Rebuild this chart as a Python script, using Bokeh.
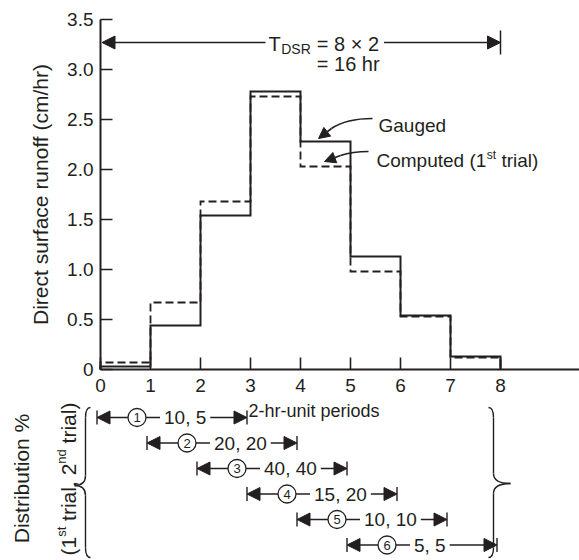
import math
from bokeh.plotting import figure
from bokeh.models import Range1d, FixedTicker, Arrow, NormalHead
from bokeh.core.properties import value
from bokeh.embed import file_html
from bokeh.resources import INLINE

# ---------------- data ----------------
period_edges = [0, 1, 2, 3, 4, 5, 6, 7, 8]
gauged_runoff = [0.03, 0.44, 1.54, 2.78, 2.28, 1.13, 0.54, 0.13]
computed_runoff = [0.07, 0.67, 1.68, 2.73, 2.03, 0.98, 0.53, 0.12]
y_tick_values = [0, 0.5, 1.0, 1.5, 2.0, 2.5, 3.0, 3.5]
y_tick_labels = ["0", "0.5", "1.0", "1.5", "2.0", "2.5", "3.0", "3.5"]
x_tick_values = [0, 1, 2, 3, 4, 5, 6, 7, 8]
x_tick_labels = ["0", "1", "2", "3", "4", "5", "6", "7", "8"]
n_unit_periods = 8
unit_duration_hr = 2
dist_numbers = ["1", "2", "3", "4", "5", "6"]
dist_start_period = [0, 1, 2, 3, 4, 5]
dist_first_trial = [10, 20, 40, 15, 10, 5]
dist_second_trial = [5, 20, 40, 20, 10, 5]
dist_span = 3

# ---------------- style ----------------
FONT = "Liberation Sans"
INK = "#231f20"
ARIAL = {" ": 278, "(": 333, ")": 333, ",": 278, "-": 333, ".": 278, "/": 278,
         "=": 584, "%": 889, "\u00d7": 584, "C": 722, "D": 722, "G": 778, "R": 722,
         "S": 667, "T": 611, "a": 556, "b": 556, "c": 500, "d": 556, "e": 556,
         "f": 278, "g": 556, "h": 556, "i": 222, "l": 222, "m": 833, "n": 556,
         "o": 556, "p": 556, "r": 333, "s": 500, "t": 278, "u": 556}


def tw(s, size):
    return sum(ARIAL.get(ch, 556) for ch in s) * size / 1000.0


PX = 1 / 50.0    # x data units per screen pixel
PY = 1 / 100.0   # y data units per screen pixel


def txt(fig, x, y, s, size, align="left", baseline="alphabetic", angle=0.0, **kw):
    fig.text(x=[x], y=[y], text=[s], text_font=value(FONT), text_font_size=f"{size}px",
             text_align=align, text_baseline=baseline, text_color=INK, angle=angle, **kw)


def head(size=13):
    return NormalHead(size=size, fill_color=INK, line_color=INK, line_width=1)


# ---------------- figure (frame covers the whole canvas) ----------------
p = figure(width=579, height=560, x_range=Range1d(-2.0, 9.58), y_range=Range1d(-1.91, 3.69),
           output_backend="svg", toolbar_location=None,
           min_border_left=0, min_border_right=0, min_border_top=0, min_border_bottom=0)
p.outline_line_color = None
p.grid.visible = False

xax = p.xaxis[0]
xax.ticker = FixedTicker(ticks=x_tick_values)
xax.major_label_overrides = dict(zip(x_tick_values, x_tick_labels))
xax.fixed_location = 0
xax.bounds = (0, 9.58)
yax = p.yaxis[0]
yax.ticker = FixedTicker(ticks=y_tick_values)
yax.major_label_overrides = dict(zip(y_tick_values, y_tick_labels))
yax.fixed_location = 0
yax.bounds = (0, 3.5)
for ax in (xax, yax):
    ax.major_tick_in = 12
    ax.major_tick_out = 0
    ax.minor_tick_in = 0
    ax.minor_tick_out = 0
    ax.axis_line_width = 2
    ax.axis_line_color = INK
    ax.major_tick_line_width = 1.6
    ax.major_tick_line_color = INK
    ax.major_label_text_font = FONT
    ax.major_label_text_font_size = "19px"
    ax.major_label_text_color = INK
xax.major_label_standoff = 9
yax.major_label_standoff = 7
yax.axis_label = "Direct surface runoff (cm/hr)"
yax.axis_label_text_font = FONT
yax.axis_label_text_font_size = "21px"
yax.axis_label_text_font_style = "normal"
yax.axis_label_text_color = INK
yax.axis_label_standoff = 12


def step_path(edges, vals):
    xs, ys = [edges[0]], [0.0]
    for i, v in enumerate(vals):
        xs += [edges[i], edges[i + 1]]
        ys += [v, v]
    xs.append(edges[-1])
    ys.append(0.0)
    return xs, ys


gx, gy = step_path(period_edges, gauged_runoff)
cx, cy = step_path(period_edges, computed_runoff)
p.line(gx, gy, line_color=INK, line_width=2, line_join="miter")
p.line(cx, cy, line_color=INK, line_width=1.8, line_dash="8 4", line_join="miter")

# ---- T_DSR annotation ----
y_T = 3.27
x_T = 3.36
txt(p, x_T, y_T - 0.01, "T", 20)
x_dsr = x_T + tw("T", 20) * PX + 0.01
txt(p, x_dsr, y_T - 0.06, "DSR", 14)
x_eq = x_dsr + tw("DSR", 14) * PX + 0.12
line1 = f"= {n_unit_periods} \u00d7 {unit_duration_hr}"
line2 = f"= {n_unit_periods * unit_duration_hr} hr"
txt(p, x_eq, y_T - 0.01, line1, 20)
txt(p, x_eq, y_T - 0.21, line2, 20)
p.add_layout(Arrow(end=head(), x_start=x_T - 0.06, y_start=y_T, x_end=0.03, y_end=y_T,
                   line_color=INK, line_width=1.5))
x_r0 = x_eq + tw(line1, 20) * PX + 0.1
p.add_layout(Arrow(end=head(), x_start=x_r0, y_start=y_T, x_end=period_edges[-1], y_end=y_T,
                   line_color=INK, line_width=1.5))
p.segment(x0=[period_edges[-1]], y0=[y_T - 0.12], x1=[period_edges[-1]], y1=[y_T + 0.12],
          line_color=INK, line_width=1.5)

# ---- labels with curved arrows ----
txt(p, 5.56, 2.44, "Gauged", 19)
x_c = 5.52
y_c = 2.09
txt(p, x_c, y_c, "Computed (1", 19)
x_st = x_c + tw("Computed (1", 19) * PX + 0.01
txt(p, x_st, y_c + 0.06, "st", 12)
txt(p, x_st + (tw("st", 12) + tw(" ", 19)) * PX, y_c, "trial)", 19)

p.quadratic(x0=[5.44], y0=[2.51], x1=[4.62], y1=[2.41], cx=[4.92], cy=[2.51],
            line_color=INK, line_width=1.6)
p.add_layout(Arrow(end=head(11), x_start=4.62, y_start=2.41, x_end=4.36, y_end=2.31,
                   line_color=INK, line_width=1.6))
p.quadratic(x0=[5.36], y0=[2.18], x1=[4.80], y1=[2.14], cx=[5.04], cy=[2.18],
            line_color=INK, line_width=1.6)
p.add_layout(Arrow(end=head(11), x_start=4.80, y_start=2.14, x_end=4.48, y_end=2.08,
                   line_color=INK, line_width=1.6))

# ---- distribution rows below the axis ----
txt(p, 2.96, -0.41, "2-hr-unit periods", 18, baseline="middle")

shift = -0.07
row_y = [-0.48 - 0.255 * k for k in range(len(dist_numbers))]
x_left = [s + shift for s in dist_start_period]
x_right = [s + dist_span + shift for s in dist_start_period]
for xl, xr, yy in zip(x_left, x_right, row_y):
    arr = Arrow(start=head(), end=head(), x_start=xl, y_start=yy, x_end=xr, y_end=yy,
                line_color=INK, line_width=1.4)
    arr.level = "underlay"
    p.add_layout(arr)
p.segment(x0=x_left, y0=[y - 0.07 for y in row_y], x1=x_left, y1=[y + 0.07 for y in row_y],
          line_color=INK, line_width=1.4)
p.segment(x0=x_right, y0=[y - 0.07 for y in row_y], x1=x_right, y1=[y + 0.07 for y in row_y],
          line_color=INK, line_width=1.4)
circ_x = [xl + 0.8 for xl in x_left]
p.scatter(x=circ_x, y=row_y, marker="circle", size=18, fill_color="white",
          line_color=INK, line_width=1.3)
p.text(x=circ_x, y=row_y, text=dist_numbers, text_font=value(FONT), text_font_size="13px",
       text_align="center", text_baseline="middle", text_color=INK)
labels = [f"{a}, {b}" for a, b in zip(dist_first_trial, dist_second_trial)]
p.text(x=[c + 0.46 for c in circ_x], y=row_y, text=labels, text_font=value(FONT),
       text_font_size="19px", text_align="left", text_baseline="middle", text_color=INK,
       background_fill_color="white", padding=4)


def brace(fig, xa, xt, y0, y1, ym, hook, r):
    q = [(xa + hook, y0, xa, y0 - r, xa, y0),
         (xa, ym + r, xt, ym, xa, ym),
         (xt, ym, xa, ym - r, xa, ym),
         (xa, y1 + r, xa + hook, y1, xa, y1)]
    fig.quadratic(x0=[a[0] for a in q], y0=[a[1] for a in q], x1=[a[2] for a in q],
                  y1=[a[3] for a in q], cx=[a[4] for a in q], cy=[a[5] for a in q],
                  line_color=INK, line_width=1.4)
    fig.segment(x0=[xa, xa], y0=[y0 - r, ym - r], x1=[xa, xa], y1=[ym + r, y1 + r],
                line_color=INK, line_width=1.4)


brace(p, -0.30, -0.52, -0.38, -1.88, -1.16, 0.10, 0.10)
brace(p, 7.86, 8.20, -0.38, -1.88, -1.14, -0.10, 0.10)

txt(p, -1.58, -1.09, "Distribution %", 21, align="center", baseline="middle",
    angle=math.pi / 2)
# rotated "(1st trial, 2nd trial)" built from pieces; gap = leading space width
pieces = [("(1", 21, 0.0, 0.0), ("st", 13, 0.15, 0.0), ("trial, 2", 21, 0.0, tw(" ", 21)),
          ("nd", 13, 0.15, 0.0), ("trial)", 21, 0.0, tw(" ", 21))]
ypos = -1.86
for s, size, raise_, gap in pieces:
    ypos += gap * PY
    txt(p, -0.64 - raise_, ypos, s, size, angle=math.pi / 2)
    ypos += tw(s, size) * PY

open("out.html", "w").write(file_html(p, INLINE))
